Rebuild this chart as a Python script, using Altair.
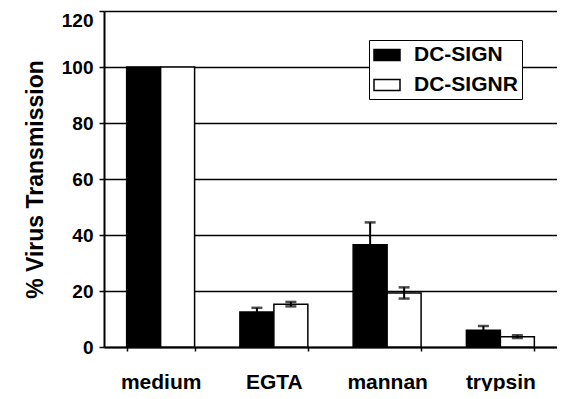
import altair as alt
import pandas as pd

categories = ["medium", "EGTA", "mannan", "trypsin"]
series = ["DC-SIGN", "DC-SIGNR"]
dc_sign = [100, 12.5, 36.5, 6.0]
dc_sign_err = [0, 1.5, 8.0, 1.5]
dc_signr = [100, 15.3, 19.3, 3.7]
dc_signr_err = [0, 0.8, 2.0, 0.5]

rows = []
for i, c in enumerate(categories):
    rows.append({"cat": c, "series": series[0], "val": dc_sign[i], "err": dc_sign_err[i]})
    rows.append({"cat": c, "series": series[1], "val": dc_signr[i], "err": dc_signr_err[i]})
df = pd.DataFrame(rows)
df["lo"] = df["val"] - df["err"]
df["hi"] = df["val"] + df["err"]
err_df = df[df["err"] > 0]

FONT = "Liberation Sans"

x_enc = alt.X("cat:N", sort=categories,
              scale=alt.Scale(paddingInner=0.4, paddingOuter=0.2),
              axis=alt.Axis(title=None, labelAngle=0, tickBand="extent",
                            labelFont=FONT, labelFontSize=21, labelFontWeight="bold",
                            labelColor="black", labelPadding=20, tickSize=4,
                            tickColor="black", tickWidth=1.5, domainColor="black",
                            domainWidth=2))
xo_enc = alt.XOffset("series:N", sort=series, scale=alt.Scale(paddingInner=0, paddingOuter=0))

bars = alt.Chart(df).mark_bar(stroke="black", strokeWidth=1.5).encode(
    x=x_enc,
    xOffset=xo_enc,
    y=alt.Y("val:Q", scale=alt.Scale(domain=[0, 120]),
            axis=alt.Axis(title="% Virus Transmission", values=[0, 20, 40, 60, 80, 100, 120],
                          grid=True, gridColor="black", gridWidth=1.5, gridOpacity=1,
                          labelFont=FONT, labelFontSize=19, labelFontWeight="bold",
                          labelColor="black", labelPadding=6, tickSize=5,
                          labelBaseline=alt.condition("datum.value == 120",
                                                      alt.value("top"), alt.value("middle")),
                          tickColor="black", tickWidth=1.5, domainColor="black",
                          domainWidth=2, titleFont=FONT, titleFontSize=23,
                          titleFontWeight="bold", titleColor="black", titlePadding=14)),
    fill=alt.Fill("series:N", sort=series,
                  scale=alt.Scale(domain=series, range=["black", "white"]),
                  legend=alt.Legend(title=None, orient="none", legendX=265, legendY=29,
                                    fillColor="white", strokeColor="black",
                                    padding=4,
                                    labelFont=FONT, labelFontSize=21, labelFontWeight="bold",
                                    labelColor="black", labelOffset=19, rowPadding=9,
                                    symbolType="M-1,-0.55H1.6V0.55H-1Z", symbolSize=400,
                                    symbolStrokeColor="black", symbolStrokeWidth=1.5)),
)

rules = alt.Chart(err_df).mark_rule(color="black", strokeWidth=2).encode(
    x=alt.X("cat:N", sort=categories), xOffset=xo_enc,
    y="lo:Q", y2="hi:Q")

caps_hi = alt.Chart(err_df).mark_tick(color="black", thickness=2.5, size=11, orient="horizontal").encode(
    x=alt.X("cat:N", sort=categories), xOffset=xo_enc, y="hi:Q")
caps_lo = alt.Chart(err_df).mark_tick(color="black", thickness=2.5, size=11, orient="horizontal").encode(
    x=alt.X("cat:N", sort=categories), xOffset=xo_enc, y="lo:Q")

chart = alt.layer(bars, rules, caps_hi, caps_lo).properties(
    width=453, height=336,
    autosize=alt.AutoSizeParams(type="none"),
    padding={"left": 96, "top": 3, "right": 0, "bottom": 44},
).configure_view(stroke="black", strokeWidth=1.5).configure_legend(
    strokeWidth=1.5).configure(background="white")

chart.save("out.html", embed_options={"renderer": "svg", "actions": False})
